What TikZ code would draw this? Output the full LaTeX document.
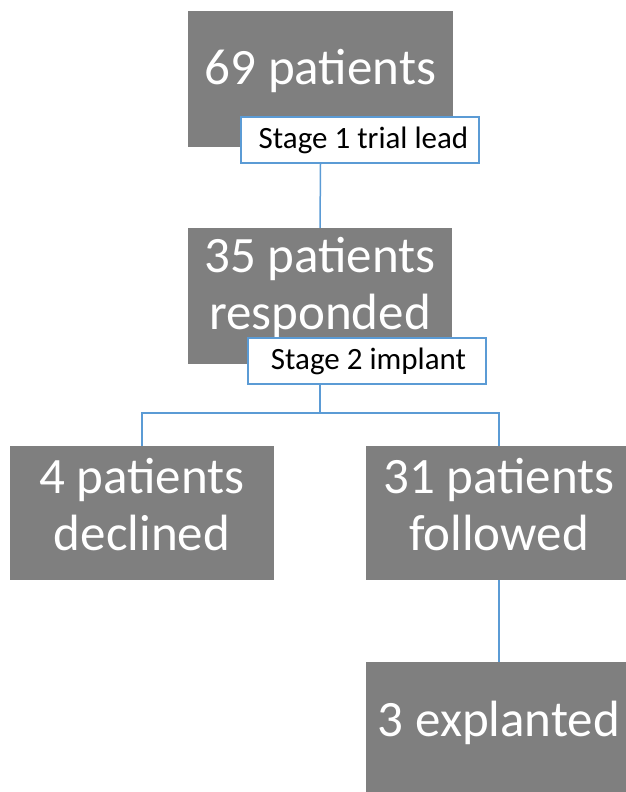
\documentclass[tikz,border=0pt]{standalone}
\usepackage{fontspec}
\setmainfont{Carlito}
\definecolor{boxgray}{HTML}{7F7F7F}
\definecolor{lineblue}{HTML}{5B9BD5}
\begin{document}
\begin{tikzpicture}[x=1pt,y=-1pt,
  bigbox/.style={fill=boxgray, draw=none, inner sep=0pt},
  boxtext/.style={text=white, align=center, inner sep=0pt,
    font=\fontsize{51}{57}\selectfont},
  tag/.style={fill=white, draw=lineblue, line width=1.5pt, text=black,
    inner sep=0pt, minimum width=238pt, minimum height=46pt,
    font=\fontsize{31}{37}\selectfont},
  link/.style={draw=lineblue, line width=1.5pt}]
\useasboundingbox (0,0) rectangle (625,792);
\node[bigbox, minimum width=265pt, minimum height=136pt] (b1) at (320.5,79) {};
\node[bigbox, minimum width=264pt, minimum height=136pt] (b2) at (320,296) {};
\node[bigbox, minimum width=264pt, minimum height=134pt] (b3) at (142,513) {};
\node[bigbox, minimum width=266pt, minimum height=134pt] (b4) at (499,513) {};
\node[bigbox, minimum width=266pt, minimum height=136pt] (b5) at (499,730) {};
\node[boxtext] (t1) at ([yshift=8pt]b1.center) {69 patients};
\node[boxtext] (t2) at ([yshift=9pt]b2.center) {35 patients\\responded};
\node[boxtext] (t3) at ([yshift=8pt]b3.center) {4 patients\\declined};
\node[boxtext] (t4) at ([yshift=8pt]b4.center) {31 patients\\followed};
\node[boxtext] (t5) at ([yshift=7pt]b5.center) {3 explanted};
\node[tag] (l1) at (360,140) {\hspace*{7pt}Stage 1 trial lead};
\node[tag] (l2) at (367,361) {\hspace*{3pt}Stage 2 implant};
\coordinate (j) at (320,413);
\draw[link] (l1.south -| b1) -- (b2.north);
\draw[link] (l2.south -| b2) -- (j);
\draw[link] (j) -| (b3.north);
\draw[link] (j) -| (b4.north);
\draw[link] (b4.south) -- (b5.north);
\end{tikzpicture}
\end{document}
